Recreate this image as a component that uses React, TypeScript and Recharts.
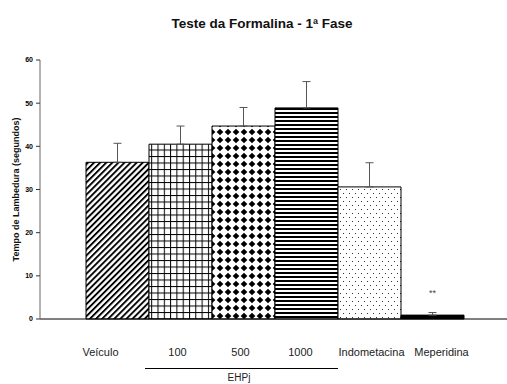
import React from "react";
import {
  BarChart,
  Bar,
  XAxis,
  YAxis,
  Cell,
  ErrorBar,
  LabelList,
} from "recharts";

const categories = ["Veículo", "100", "500", "1000", "Indometacina", "Meperidina"];
const means = [36.3, 40.5, 44.7, 48.9, 30.6, 0.9];
const sems = [4.4, 4.2, 4.3, 6.1, 5.6, 0.6];
const marks = ["", "", "", "", "", "**"];
const yTicks = [0, 10, 20, 30, 40, 50, 60];

const fills = [
  "url(#p-diag)",
  "url(#p-grid)",
  "url(#p-diamond)",
  "url(#p-stripe)",
  "url(#p-dots)",
  "#000",
];
// the original labels are not quite centred under the bars
const labelShift = [-17, -3, -3, -6, 2, 9];

const FONT = "Arial, 'Liberation Sans', sans-serif";

const data = categories.map((name, i) => ({
  name,
  mean: means[i],
  err: [0, sems[i]],
  sig: marks[i],
}));

function CategoryTick(props: any) {
  const { x, y, payload, index } = props;
  return (
    <text
      x={x + labelShift[index]}
      y={y + 37}
      textAnchor="middle"
      fontSize={11}
      fontFamily={FONT}
      fill="#222"
    >
      {payload.value}
    </text>
  );
}

function YLabel(props: any) {
  const vb = props.viewBox;
  const cx = vb.x + 16;
  const cy = vb.y + vb.height / 2;
  return (
    <text
      x={cx}
      y={cy}
      transform={`rotate(-90 ${cx} ${cy})`}
      textAnchor="middle"
      dominantBaseline="central"
      fontSize={9}
      fontWeight="bold"
      fontFamily={FONT}
      fill="#111"
    >
      Tempo de Lambedura (segundos)
    </text>
  );
}

export default function App() {
  return (
    <div
      style={{
        position: "absolute",
        left: 0,
        top: 0,
        width: 507,
        height: 384,
        overflow: "hidden",
        background: "#fff",
        fontFamily: FONT,
      }}
    >
      <BarChart
        width={517}
        height={384}
        data={data}
        margin={{ top: 60, right: 0, bottom: 0, left: 0 }}
        barCategoryGap={0}
      >
        <XAxis
          dataKey="name"
          height={65}
          padding={{ left: 46, right: 53 }}
          tickLine={false}
          tickSize={0}
          tickMargin={0}
          axisLine={{ stroke: "#000" }}
          tick={<CategoryTick />}
          interval={0}
        />
        <YAxis
          width={40}
          type="number"
          domain={[0, 60]}
          ticks={yTicks}
          tickSize={4}
          tickMargin={3}
          axisLine={{ stroke: "#666" }}
          tickLine={{ stroke: "#333" }}
          tick={{ fontSize: 7, fontWeight: "bold", fill: "#000", fontFamily: FONT }}
          label={<YLabel />}
        />
        <Bar
          dataKey="mean"
          stroke="#000"
          strokeWidth={1}
          isAnimationActive={false}
        >
          {data.map((d, i) => (
            <Cell key={d.name} fill={fills[i]} />
          ))}
          <ErrorBar
            dataKey="err"
            direction="y"
            width={4}
            stroke="#555"
            strokeWidth={1}
            isAnimationActive={false}
          />
          <LabelList
            dataKey="sig"
            position="top"
            offset={19}
            fontSize={9}
            fill="#444"
            fontFamily={FONT}
          />
        </Bar>
      </BarChart>

      <svg
        width={507}
        height={384}
        style={{ position: "absolute", left: 0, top: 0, pointerEvents: "none" }}
      >
        <defs>
          <pattern
            id="p-diag"
            width={4.3}
            height={4.3}
            patternUnits="userSpaceOnUse"
            patternTransform="rotate(45)"
          >
            <rect width={4.3} height={4.3} fill="#fff" />
            <rect width={1.9} height={4.3} fill="#000" />
          </pattern>
          <pattern id="p-grid" width={6.3} height={6.5} patternUnits="userSpaceOnUse">
            <rect width={6.3} height={6.5} fill="#fff" />
            <rect width={1} height={6.5} fill="#000" />
            <rect width={6.3} height={1} fill="#000" />
          </pattern>
          <pattern id="p-diamond" width={8} height={8} patternUnits="userSpaceOnUse">
            <rect width={8} height={8} fill="#fff" />
            <polygon points="4,0.7 7.3,4 4,7.3 0.7,4" fill="#000" />
          </pattern>
          <pattern id="p-stripe" width={4} height={4} patternUnits="userSpaceOnUse">
            <rect width={4} height={4} fill="#fff" />
            <rect width={4} height={2} fill="#000" />
          </pattern>
          <pattern id="p-dots" width={6} height={8} patternUnits="userSpaceOnUse">
            <rect width={6} height={8} fill="#fff" />
            <rect x={1} y={1} width={1} height={1} fill="#333" />
            <rect x={4} y={5} width={1} height={1} fill="#333" />
          </pattern>
        </defs>
        <text
          x={262}
          y={28}
          textAnchor="middle"
          fontSize={13.5}
          fontWeight="bold"
          fontFamily={FONT}
          fill="#111"
        >
          Teste da Formalina - 1ª Fase
        </text>
        <line x1={145} x2={338} y1={368.5} y2={368.5} stroke="#000" strokeWidth={1} />
        <text
          x={239}
          y={381}
          textAnchor="middle"
          fontSize={10}
          fontFamily={FONT}
          fill="#222"
        >
          EHPj
        </text>
      </svg>
    </div>
  );
}
